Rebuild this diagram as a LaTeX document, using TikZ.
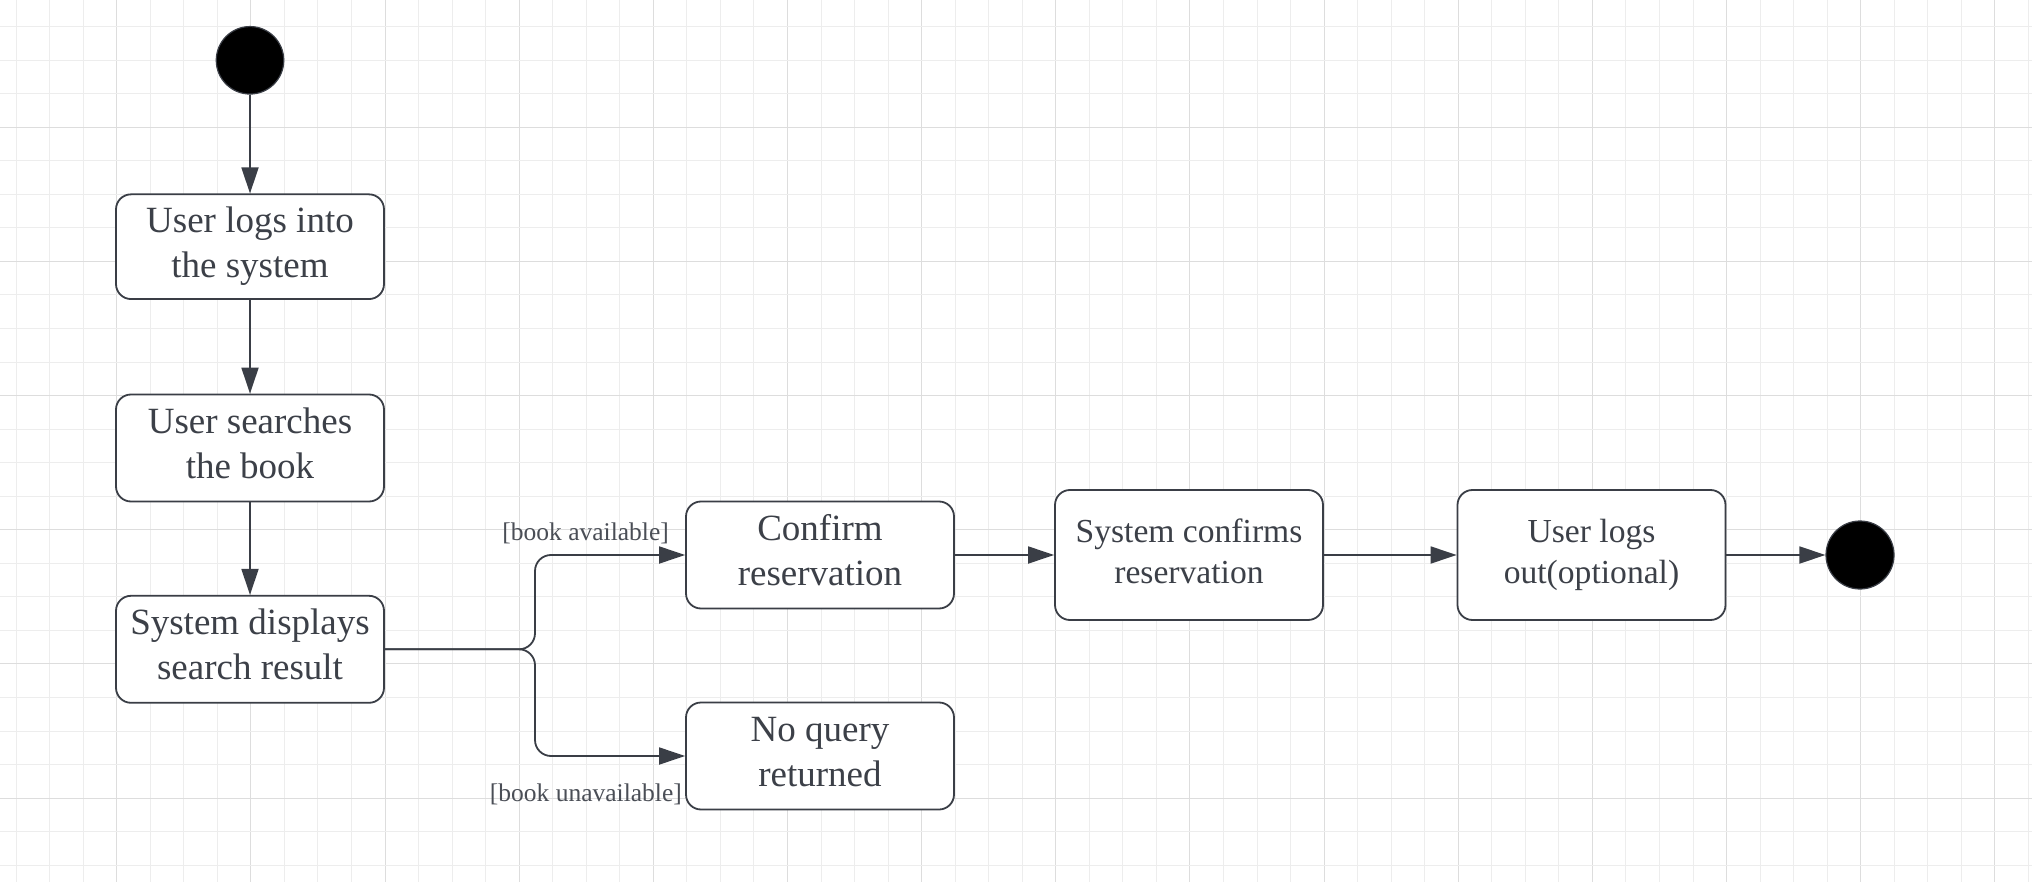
\documentclass[tikz,border=0pt]{standalone}
\usepackage{fontspec}
\setmainfont{Liberation Serif}
\usetikzlibrary{arrows.meta}
\definecolor{gridmin}{RGB}{237,237,237}
\definecolor{gridmaj}{RGB}{221,221,221}
\definecolor{lc}{RGB}{58,62,70}
\definecolor{tc}{RGB}{60,64,72}
\definecolor{labc}{RGB}{74,78,86}
\newcommand\bigf{\fontsize{37}{45}\selectfont}
\newcommand\midf{\fontsize{33.6}{41}\selectfont}
\newcommand\labf{\fontsize{25.5}{30}\selectfont}
\newcommand\twol[2]{\begin{tabular}[t]{@{}c@{}}#1\\#2\end{tabular}}
\tikzset{
  actbox/.style={draw=lc, line width=1.8pt, rounded corners=15pt, fill=white,
    minimum width=268pt, minimum height=107pt, inner sep=0pt, text=tc,
    font=\bigf, text height=25pt, text depth=55pt},
  actboxs/.style={actbox, font=\midf, minimum height=130pt, text height=22pt, text depth=47pt},
  dot/.style={circle, fill=black, draw=lc, line width=1.2pt, inner sep=0pt, minimum size=67.5pt},
  flow/.style={draw=lc, line width=1.8pt, -{Triangle[length=26pt,width=17pt]}},
  guard/.style={text=labc, font=\labf, inner sep=0pt},
}
\begin{document}
\begin{tikzpicture}[x=1pt,y=-1pt]
\useasboundingbox (0,0) rectangle (2032,882);
\fill[white] (0,0) rectangle (2032,882);
% grid
\foreach \k in {0,...,60}{
  \pgfmathtruncatemacro\m{mod(\k,4)}
  \pgfmathsetmacro\gx{floor(16.08+33.54*\k)+0.5}
  \ifnum\m=3 \def\gc{gridmaj}\else\def\gc{gridmin}\fi
  \draw[line width=1.3pt, draw=\gc] (\gx,0) -- ++(0,882);
}
\foreach \k in {0,...,25}{
  \pgfmathtruncatemacro\m{mod(\k,4)}
  \pgfmathsetmacro\gy{floor(26.68+33.54*\k)+0.5}
  \ifnum\m=3 \def\gc{gridmaj}\else\def\gc{gridmin}\fi
  \draw[line width=1.3pt, draw=\gc] (0,\gy) -- ++(2032,0);
}
% nodes
\node[dot] (start) at (250,60.3) {};
\node[actbox, minimum height=104.7pt, text depth=52.4pt] (login) at (250,246.7) {\twol{User logs into}{the system}};
\node[actbox] (search) at (250,448) {\twol{User searches}{the book}};
\node[actbox] (disp) at (250,649.3) {\twol{System displays}{search result}};
\node[actbox] (confirm) at (820,555) {\twol{Confirm}{reservation}};
\node[actbox] (noq) at (820,756) {\twol{No query}{returned}};
\node[actboxs] (sysconf) at (1189,555) {\twol{System confirms}{reservation}};
\node[actboxs] (logout) at (1591.5,555) {\twol{User logs}{out(optional)}};
\node[dot, minimum size=68pt] (end) at (1860,555) {};
\coordinate (fork) at (535,649.3);
% connectors
\draw[flow] (start) -- (login);
\draw[flow] (login) -- (search);
\draw[flow] (search) -- (disp);
\draw[flow, rounded corners=16pt] (disp.east) -- (fork) |- (confirm.west);
\draw[flow, rounded corners=16pt] (disp.east) -- (fork) |- (noq.west);
\draw[flow] (confirm) -- (sysconf);
\draw[flow] (sysconf) -- (logout);
\draw[flow] (logout) -- (end);
% guards
\node[guard, anchor=base east] (gavail) at (669,540) {[book available]};
\node[guard, anchor=base east] (gunavail) at (682,801.5) {[book unavailable]};
\end{tikzpicture}
\end{document}
